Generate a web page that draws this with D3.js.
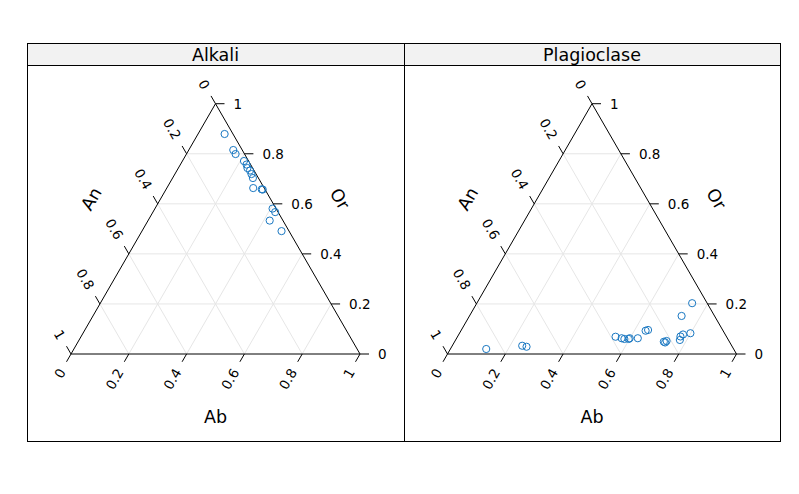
<!DOCTYPE html>
<html>
<head>
<meta charset="utf-8">
<script src="https://cdn.jsdelivr.net/npm/d3@7"></script>
<style>
  html, body { margin: 0; padding: 0; background: #fff; }
  svg { display: block; font-family: "DejaVu Sans", sans-serif; }
</style>
</head>
<body>
<svg id="chart" width="799" height="494"></svg>
<script>
// ---- data (fractions Ab, An, Or) ----
const panels = ["Alkali", "Plagioclase"];
const alkaliAb = [0.092, 0.154, 0.170, 0.213, 0.229, 0.239, 0.253, 0.265, 0.278, 0.299, 0.331, 0.335, 0.407, 0.423, 0.421, 0.483];
const alkaliAn = [0.029, 0.031, 0.031, 0.016, 0.014, 0.018, 0.014, 0.016, 0.019, 0.038, 0.011, 0.008, 0.012, 0.010, 0.046, 0.026];
const alkaliOr = [0.879, 0.815, 0.799, 0.771, 0.757, 0.743, 0.733, 0.719, 0.703, 0.663, 0.658, 0.657, 0.581, 0.567, 0.533, 0.491];
const plagAb = [0.124, 0.242, 0.259, 0.547, 0.571, 0.582, 0.597, 0.599, 0.627, 0.639, 0.646, 0.724, 0.732, 0.730, 0.776, 0.771, 0.776, 0.799, 0.734, 0.745];
const plagAn = [0.856, 0.725, 0.712, 0.384, 0.366, 0.358, 0.343, 0.338, 0.310, 0.268, 0.258, 0.227, 0.216, 0.224, 0.168, 0.159, 0.146, 0.118, 0.114, 0.052];
const plagOr = [0.020, 0.033, 0.029, 0.069, 0.063, 0.060, 0.060, 0.063, 0.063, 0.093, 0.096, 0.049, 0.052, 0.046, 0.056, 0.070, 0.078, 0.083, 0.152, 0.203];
const tickValues = [0, 0.2, 0.4, 0.6, 0.8, 1];
const gridValues = [0.2, 0.4, 0.6, 0.8];
const axisTitles = { bottom: "Ab", left: "An", right: "Or" };

const series = [
  { Ab: alkaliAb, An: alkaliAn, Or: alkaliOr },
  { Ab: plagAb, An: plagAn, Or: plagOr }
];

// ---- layout ----
const svg = d3.select("#chart");
const panelTop = 43, stripH = 22, panelBottom = 441;
const panelEdges = [27, 404, 780];
const triW = 289, triH = triW * Math.sqrt(3) / 2, triBottom = 354;
const tickLen = 9, labelGap = 18, titleGap = 60, bottomTitleGap = 63;
const pointColor = "#1a78c2";
const gridColor = "#e6e6e6";

panels.forEach((name, i) => {
  const x0 = panelEdges[i], x1 = panelEdges[i + 1];
  const cx = (x0 + x1) / 2;
  const g = svg.append("g");

  // panel box & strip
  g.append("rect").attr("x", x0 + 0.5).attr("y", panelTop + 0.5)
    .attr("width", x1 - x0).attr("height", panelBottom - panelTop)
    .attr("fill", "none").attr("stroke", "#000").attr("stroke-width", 1);
  g.append("rect").attr("x", x0 + 0.5).attr("y", panelTop + 0.5)
    .attr("width", x1 - x0).attr("height", stripH)
    .attr("fill", "#f2f2f2").attr("stroke", "#000").attr("stroke-width", 1);
  g.append("text").attr("x", cx).attr("y", panelTop + stripH / 2 + 1)
    .attr("text-anchor", "middle").attr("dominant-baseline", "central")
    .attr("font-size", 17.5).text(name);

  // scales: horizontal (Ab + Or/2), vertical (Or)
  const xS = d3.scaleLinear().domain([0, 1]).range([cx - triW / 2, cx + triW / 2]);
  const yS = d3.scaleLinear().domain([0, 1]).range([triBottom, triBottom - triH]);
  const proj = (ab, an, or) => {
    const s = ab + an + or;
    ab /= s; or /= s;
    return [xS(ab + or / 2), yS(or)];
  };

  // grid lines
  const grid = g.append("g").attr("stroke", gridColor).attr("stroke-width", 1).attr("fill", "none");
  gridValues.forEach(v => {
    let a = proj(0, 1 - v, v), b = proj(1 - v, 0, v);
    grid.append("line").attr("x1", a[0]).attr("y1", a[1]).attr("x2", b[0]).attr("y2", b[1]);
    a = proj(v, 1 - v, 0); b = proj(v, 0, 1 - v);
    grid.append("line").attr("x1", a[0]).attr("y1", a[1]).attr("x2", b[0]).attr("y2", b[1]);
    a = proj(0, v, 1 - v); b = proj(1 - v, v, 0);
    grid.append("line").attr("x1", a[0]).attr("y1", a[1]).attr("x2", b[0]).attr("y2", b[1]);
  });

  // triangle
  const A = proj(0, 1, 0), B = proj(1, 0, 0), C = proj(0, 0, 1);
  g.append("path").attr("d", d3.line()([A, B, C, A]) + "Z")
    .attr("fill", "none").attr("stroke", "#000").attr("stroke-width", 1);

  const ticks = g.append("g").attr("stroke", "#000").attr("stroke-width", 1);
  const labels = g.append("g").attr("font-size", 13.5).attr("fill", "#000");
  const s3 = Math.sqrt(3) / 2;

  tickValues.forEach(v => {
    // Ab on bottom edge, direction down-left
    let p = proj(v, 1 - v, 0), d = [-0.5, s3];
    ticks.append("line").attr("x1", p[0]).attr("y1", p[1])
      .attr("x2", p[0] + d[0] * tickLen).attr("y2", p[1] + d[1] * tickLen);
    let lx = p[0] + d[0] * labelGap, ly = p[1] + d[1] * labelGap;
    labels.append("text").attr("transform", `translate(${lx},${ly}) rotate(-60)`)
      .attr("text-anchor", "end").attr("dominant-baseline", "central").text(d3.format("")(v));

    // An on left edge (0 at top, 1 bottom-left), direction up-left
    p = proj(0, v, 1 - v); d = [-0.5, -s3];
    ticks.append("line").attr("x1", p[0]).attr("y1", p[1])
      .attr("x2", p[0] + d[0] * tickLen).attr("y2", p[1] + d[1] * tickLen);
    lx = p[0] + d[0] * labelGap; ly = p[1] + d[1] * labelGap;
    labels.append("text").attr("transform", `translate(${lx},${ly}) rotate(60)`)
      .attr("text-anchor", "end").attr("dominant-baseline", "central").text(d3.format("")(v));

    // Or on right edge (0 bottom-right, 1 top), direction right
    p = proj(1 - v, 0, v); d = [1, 0];
    ticks.append("line").attr("x1", p[0]).attr("y1", p[1])
      .attr("x2", p[0] + d[0] * tickLen).attr("y2", p[1] + d[1] * tickLen);
    lx = p[0] + labelGap; ly = p[1];
    labels.append("text").attr("x", lx).attr("y", ly)
      .attr("text-anchor", "start").attr("dominant-baseline", "central").text(d3.format("")(v));
  });

  // axis titles
  const midBottom = [(A[0] + B[0]) / 2, (A[1] + B[1]) / 2];
  const midLeft = [(A[0] + C[0]) / 2, (A[1] + C[1]) / 2];
  const midRight = [(B[0] + C[0]) / 2, (B[1] + C[1]) / 2];
  const titles = g.append("g").attr("font-size", 17.5).attr("text-anchor", "middle")
    .attr("dominant-baseline", "central");
  titles.append("text").attr("transform", `translate(${midBottom[0]},${midBottom[1] + bottomTitleGap})`)
    .text(axisTitles.bottom);
  titles.append("text").attr("transform",
    `translate(${midLeft[0] - s3 * titleGap},${midLeft[1] - 0.5 * titleGap}) rotate(-60)`)
    .text(axisTitles.left);
  titles.append("text").attr("transform",
    `translate(${midRight[0] + s3 * titleGap},${midRight[1] - 0.5 * titleGap}) rotate(60)`)
    .text(axisTitles.right);

  // points
  const dat = series[i];
  const pts = dat.Ab.map((ab, k) => proj(ab, dat.An[k], dat.Or[k]));
  g.append("g").selectAll("circle").data(pts).join("circle")
    .attr("cx", d => d[0]).attr("cy", d => d[1]).attr("r", 3.6)
    .attr("fill", "none").attr("stroke", pointColor).attr("stroke-width", 1);
});
</script>
</body>
</html>
